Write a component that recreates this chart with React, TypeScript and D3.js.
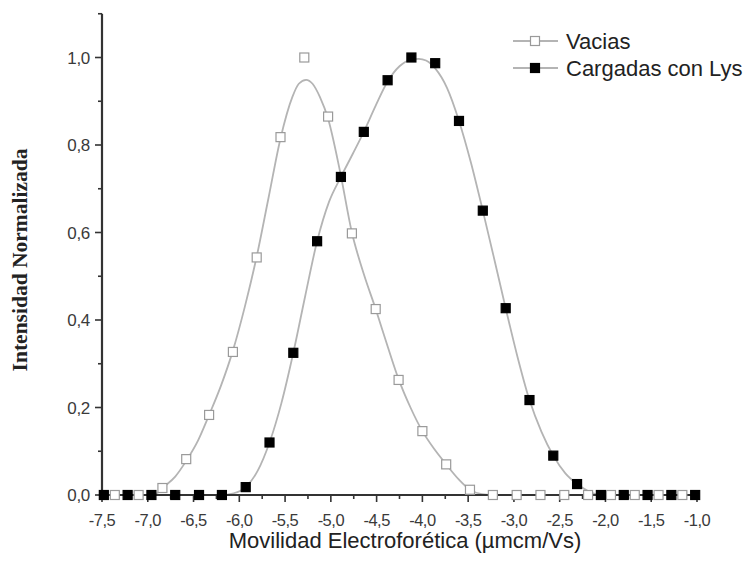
import React, { useRef, useEffect } from 'react';
import * as d3 from 'd3';

// measured points (open squares / filled squares)
const vaciasX = [-7.36, -7.10, -6.84, -6.58, -6.33, -6.07, -5.81, -5.55, -5.29, -5.03, -4.77, -4.51, -4.26, -4.00, -3.74, -3.48, -3.23, -2.97, -2.71, -2.45, -2.19, -1.94, -1.68, -1.42, -1.16];
const vaciasY = [0, 0, 0.016, 0.082, 0.183, 0.327, 0.543, 0.818, 1.0, 0.865, 0.598, 0.425, 0.263, 0.146, 0.07, 0.012, 0, 0, 0, 0, 0, 0, 0, 0, 0];

const cargadasX = [-7.48, -7.22, -6.96, -6.70, -6.44, -6.19, -5.93, -5.67, -5.41, -5.15, -4.89, -4.64, -4.38, -4.12, -3.86, -3.60, -3.34, -3.09, -2.83, -2.57, -2.31, -2.05, -1.80, -1.54, -1.28, -1.02];
const cargadasY = [0, 0, 0, 0, 0, 0, 0.018, 0.12, 0.325, 0.58, 0.727, 0.83, 0.948, 1.0, 0.987, 0.855, 0.65, 0.427, 0.217, 0.09, 0.025, 0, 0, 0, 0, 0];

// fitted curves
const vaciasFitX = [-7.5, -7.0, -6.9, -6.84, -6.7, -6.58, -6.45, -6.33, -6.2, -6.07, -5.94, -5.81, -5.68, -5.55, -5.42, -5.35, -5.27, -5.2, -5.12, -5.03, -4.9, -4.77, -4.64, -4.51, -4.38, -4.26, -4.13, -4.0, -3.87, -3.74, -3.6, -3.48, -3.35, -3.2, -1.0];
const vaciasFitY = [0, 0, 0.004, 0.016, 0.042, 0.078, 0.125, 0.183, 0.25, 0.33, 0.43, 0.545, 0.68, 0.815, 0.91, 0.94, 0.949, 0.94, 0.91, 0.86, 0.74, 0.6, 0.505, 0.425, 0.34, 0.265, 0.2, 0.146, 0.105, 0.07, 0.035, 0.012, 0.002, 0, 0];

const cargadasFitX = [-7.5, -6.2, -6.06, -5.93, -5.8, -5.67, -5.54, -5.41, -5.28, -5.15, -5.02, -4.89, -4.76, -4.64, -4.51, -4.38, -4.25, -4.12, -4.04, -3.96, -3.86, -3.73, -3.6, -3.47, -3.34, -3.21, -3.09, -2.96, -2.83, -2.7, -2.57, -2.44, -2.31, -2.18, -2.05, -1.0];
const cargadasFitY = [0, 0, 0.004, 0.018, 0.055, 0.12, 0.21, 0.325, 0.455, 0.58, 0.67, 0.727, 0.78, 0.83, 0.89, 0.945, 0.98, 0.995, 0.997, 0.993, 0.975, 0.93, 0.855, 0.76, 0.65, 0.535, 0.427, 0.315, 0.217, 0.145, 0.09, 0.05, 0.025, 0.008, 0, 0];

const xTicks = [-7.5, -7.0, -6.5, -6.0, -5.5, -5.0, -4.5, -4.0, -3.5, -3.0, -2.5, -2.0, -1.5, -1.0];
const xMinorTicks = [-7.25, -6.75, -6.25, -5.75, -5.25, -4.75, -4.25, -3.75, -3.25, -2.75, -2.25, -1.75, -1.25];
const yTicks = [0, 0.2, 0.4, 0.6, 0.8, 1.0];
const yMinorTicks = [0.1, 0.3, 0.5, 0.7, 0.9, 1.1];

const seriesNames = ['Vacias', 'Cargadas con Lys'];

const W = 746;
const H = 570;

const fmt = (v: number) => d3.format('.1f')(v).replace('.', ',').replace('−', '-');

export default function App() {
  const svgRef = useRef<SVGSVGElement>(null);

  useEffect(() => {
    const svg = d3.select(svgRef.current);
    svg.selectAll('*').remove();

    const x = d3.scaleLinear().domain([-7.5, -1.0]).range([102, 697]);
    const y = d3.scaleLinear().domain([0, 1.1]).range([495, 13.75]);

    const axisColor = '#333';
    const curveColor = '#b4b4b4';
    const sans = '"Liberation Sans", Arial, sans-serif';

    // fitted curves
    const line = d3.line<[number, number]>()
      .x(d => x(d[0]))
      .y(d => y(d[1]))
      .curve(d3.curveMonotoneX);

    const fits = [
      d3.zip(vaciasFitX, vaciasFitY) as [number, number][],
      d3.zip(cargadasFitX, cargadasFitY) as [number, number][],
    ];
    fits.forEach(pts => {
      svg.append('path')
        .attr('d', line(pts))
        .attr('fill', 'none')
        .attr('stroke', curveColor)
        .attr('stroke-width', 1.8);
    });

    // axes
    const g = svg.append('g');
    g.append('line')
      .attr('x1', x(-7.5)).attr('x2', x(-1.0))
      .attr('y1', y(0)).attr('y2', y(0))
      .attr('stroke', axisColor).attr('stroke-width', 2.2);
    g.append('line')
      .attr('x1', x(-7.5)).attr('x2', x(-7.5))
      .attr('y1', y(0) + 1).attr('y2', y(1.1))
      .attr('stroke', axisColor).attr('stroke-width', 2.2);

    xTicks.forEach(t => {
      g.append('line')
        .attr('x1', x(t)).attr('x2', x(t))
        .attr('y1', y(0)).attr('y2', y(0) + 7)
        .attr('stroke', axisColor).attr('stroke-width', 1.6);
      g.append('text')
        .attr('x', x(t))
        .attr('y', 526)
        .attr('text-anchor', 'middle')
        .style('font-family', sans)
        .style('font-size', '16.5px')
        .style('letter-spacing', '-0.5px')
        .style('fill', '#3a3a3a')
        .text(fmt(t));
    });
    xMinorTicks.forEach(t => {
      g.append('line')
        .attr('x1', x(t)).attr('x2', x(t))
        .attr('y1', y(0)).attr('y2', y(0) + 4)
        .attr('stroke', axisColor).attr('stroke-width', 1.6);
    });

    yTicks.forEach(t => {
      g.append('line')
        .attr('x1', x(-7.5) - 7).attr('x2', x(-7.5))
        .attr('y1', y(t)).attr('y2', y(t))
        .attr('stroke', axisColor).attr('stroke-width', 1.6);
      g.append('text')
        .attr('x', 90)
        .attr('y', y(t))
        .attr('dy', '0.36em')
        .attr('text-anchor', 'end')
        .style('font-family', sans)
        .style('font-size', '17px')
        .style('letter-spacing', '-0.3px')
        .style('fill', '#3a3a3a')
        .text(fmt(t));
    });
    yMinorTicks.forEach(t => {
      g.append('line')
        .attr('x1', x(-7.5) - 4).attr('x2', x(-7.5))
        .attr('y1', y(t)).attr('y2', y(t))
        .attr('stroke', axisColor).attr('stroke-width', 1.6);
    });

    // markers
    const size = 9;
    const drawSquares = (xs: number[], ys: number[], filled: boolean) => {
      svg.append('g')
        .selectAll('rect')
        .data(d3.zip(xs, ys))
        .enter().append('rect')
        .attr('x', d => x(d[0]) - size / 2)
        .attr('y', d => y(d[1]) - size / 2)
        .attr('width', size)
        .attr('height', size)
        .attr('fill', filled ? '#000' : '#fff')
        .attr('stroke', filled ? '#000' : '#9a9a9a')
        .attr('stroke-width', 1.2);
    };
    drawSquares(vaciasX, vaciasY, false);
    drawSquares(cargadasX, cargadasY, true);

    // legend
    const legend = svg.append('g');
    seriesNames.forEach((name, i) => {
      const ly = 41 + i * 27;
      legend.append('line')
        .attr('x1', 513).attr('x2', 558)
        .attr('y1', ly).attr('y2', ly)
        .attr('stroke', curveColor).attr('stroke-width', 1.8);
      legend.append('rect')
        .attr('x', 535 - size / 2).attr('y', ly - size / 2)
        .attr('width', size).attr('height', size)
        .attr('fill', i === 0 ? '#fff' : '#000')
        .attr('stroke', i === 0 ? '#9a9a9a' : '#000')
        .attr('stroke-width', 1.2);
      legend.append('text')
        .attr('x', 566)
        .attr('y', ly + 8)
        .style('font-family', sans)
        .style('font-size', '22px')
        .style('fill', '#222')
        .text(name);
    });

    // axis titles
    svg.append('text')
      .attr('x', 405)
      .attr('y', 548)
      .attr('text-anchor', 'middle')
      .style('font-family', sans)
      .style('font-size', '22px')
      .style('fill', '#222')
      .text('Movilidad Electroforética (µmcm/Vs)');

    svg.append('text')
      .attr('transform', 'translate(27,260) rotate(-90)')
      .attr('text-anchor', 'middle')
      .style('font-family', '"Liberation Serif", "Times New Roman", serif')
      .style('font-size', '21.5px')
      .style('font-weight', 'bold')
      .style('fill', '#222')
      .text('Intensidad Normalizada');
  }, []);

  return (
    <svg
      ref={svgRef}
      width={W}
      height={H}
      style={{ position: 'absolute', left: 0, top: 0, background: '#fff' }}
    />
  );
}
